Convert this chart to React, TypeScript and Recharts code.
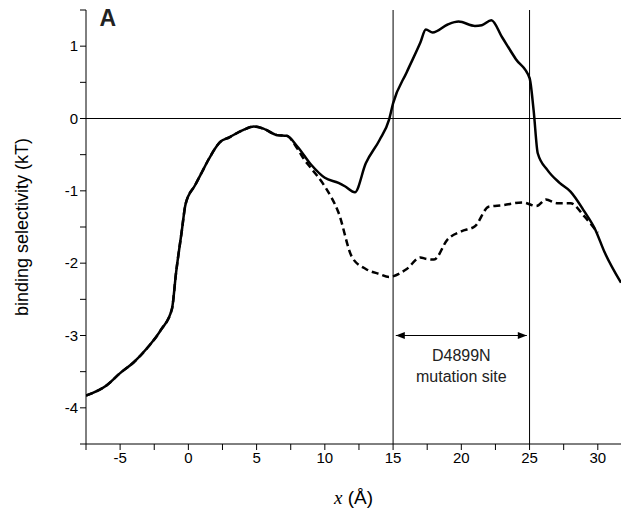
import {
  Line,
  LineChart,
  ReferenceDot,
  ReferenceLine,
  XAxis,
  YAxis,
} from 'recharts'

// solid curve (wild type)
const xSolid = [-7.5, -6, -5, -4, -3, -2, -1.2, -0.9, -0.5, -0.2, 0.5, 1, 1.5, 2.3, 3, 4, 4.8, 5.5, 6.5, 7.2, 8, 9, 10, 11, 11.5, 12.2, 13, 14, 14.7, 15, 16, 17, 17.4, 17.9, 19, 19.8, 21, 21.5, 22.2, 23, 24, 25, 25.3, 25.6, 26.3, 27.2, 28, 29, 29.8, 30.5, 31.7]
const ySolid = [-3.83, -3.69, -3.52, -3.37, -3.17, -2.92, -2.63, -2.13, -1.58, -1.18, -0.92, -0.74, -0.56, -0.33, -0.26, -0.16, -0.11, -0.14, -0.23, -0.24, -0.39, -0.64, -0.82, -0.89, -0.94, -1.02, -0.62, -0.3, -0.02, 0.21, 0.64, 1.05, 1.23, 1.19, 1.3, 1.34, 1.28, 1.29, 1.36, 1.12, 0.82, 0.56, 0.11, -0.48, -0.71, -0.89, -1.01, -1.28, -1.53, -1.85, -2.27]

// dashed curve (mutant), diverges after ~7.5
const xDash = [-7.5, -6, -5, -4, -3, -2, -1.2, -0.9, -0.5, -0.2, 0.5, 1, 1.5, 2.3, 3, 4, 4.8, 5.5, 6.5, 7.2, 8, 8.5, 9, 10, 11, 12, 13, 14, 14.7, 16, 17, 17.4, 18, 19, 20, 21, 22, 23, 24.5, 25.5, 26.2, 27, 28, 29, 30]
const yDash = [-3.83, -3.69, -3.52, -3.37, -3.17, -2.92, -2.63, -2.13, -1.58, -1.18, -0.92, -0.74, -0.56, -0.33, -0.26, -0.16, -0.11, -0.14, -0.23, -0.24, -0.42, -0.57, -0.69, -0.94, -1.3, -1.92, -2.08, -2.15, -2.19, -2.08, -1.92, -1.94, -1.95, -1.67, -1.56, -1.49, -1.22, -1.2, -1.16, -1.21, -1.12, -1.17, -1.17, -1.35, -1.58]

const xTicks = [-7.5, -5, -2.5, 0, 2.5, 5, 7.5, 10, 12.5, 15, 17.5, 20, 22.5, 25, 27.5, 30]
const yTicks = [-4.5, -4, -3.5, -3, -2.5, -2, -1.5, -1, -0.5, 0, 0.5, 1, 1.5]

const solidData = xSolid.map((x, i) => ({ x, y: ySolid[i] }))
const dashData = xDash.map((x, i) => ({ x, y: yDash[i] }))

const FONT = 'Liberation Sans, Arial, sans-serif'

const arrowHead = (dir: number) => (p: any) => (
  <path d={`M${p.cx},${p.cy} l${-dir * 9},-3.5 l0,7 z`} fill="#000" />
)

export default function App() {
  return (
    <div style={{ position: 'absolute', left: 0, top: 0 }}>
      <LineChart
        width={621}
        height={521}
        margin={{ top: 10, right: 0, bottom: 0, left: 26 }}
        style={{ fontFamily: FONT }}
      >
        <XAxis
          type="number"
          dataKey="x"
          domain={[-7.5, 31.7]}
          ticks={xTicks}
          allowDataOverflow
          height={77}
          stroke="#000"
          tickSize={6}
          tick={{ fill: '#000', fontSize: 15 }}
          tickFormatter={(v: number) => (v % 5 === 0 ? String(v) : '')}
          label={(p: any) => {
            const vb = p.viewBox
            const cx = vb.x + vb.width / 2
            return (
              <text x={cx} y={vb.y + 60} textAnchor="middle" fontSize={19} fill="#000">
                <tspan fontFamily="Liberation Serif, serif" fontStyle="italic">x</tspan>
                <tspan fontFamily={FONT}> (Å)</tspan>
              </text>
            )
          }}
        />
        <YAxis
          type="number"
          domain={[-4.5, 1.5]}
          ticks={yTicks}
          allowDataOverflow
          width={60}
          stroke="#000"
          tickSize={6}
          tick={{ fill: '#000', fontSize: 15 }}
          tickFormatter={(v: number) => (Number.isInteger(v) ? String(v) : '')}
          label={{
            value: 'binding selectivity (kT)',
            angle: -90,
            position: 'insideLeft',
            offset: -4,
            style: { textAnchor: 'middle', fontSize: 18, fill: '#000' },
          }}
        />
        <ReferenceLine y={0} stroke="#000" strokeWidth={1.2} />
        <ReferenceLine x={15} stroke="#000" strokeWidth={1} />
        <ReferenceLine x={25} stroke="#000" strokeWidth={1} />
        <ReferenceLine segment={[{ x: 15.2, y: -3 }, { x: 24.8, y: -3 }]} stroke="#000" strokeWidth={1} />
        <ReferenceDot x={15.2} y={-3} r={0} shape={arrowHead(-1)} />
        <ReferenceDot x={24.8} y={-3} r={0} shape={arrowHead(1)} />
        <ReferenceDot
          x={20}
          y={-3.35}
          r={0}
          shape={(p: any) => (
            <text x={p.cx} y={p.cy} textAnchor="middle" fontSize={16} fill="#222" fontFamily={FONT}>
              <tspan x={p.cx} dy={0}>D4899N</tspan>
              <tspan x={p.cx} dy={21}>mutation site</tspan>
            </text>
          )}
        />
        <ReferenceDot
          x={-5.9}
          y={1.28}
          r={0}
          shape={(p: any) => (
            <text x={p.cx} y={p.cy} textAnchor="middle" fontSize={23} fontWeight="bold" fill="#222" fontFamily={FONT}>
              A
            </text>
          )}
        />
        <Line
          data={dashData}
          dataKey="y"
          type="monotone"
          stroke="#000"
          strokeWidth={2.5}
          strokeDasharray="7 4"
          dot={false}
          isAnimationActive={false}
        />
        <Line
          data={solidData}
          dataKey="y"
          type="monotone"
          stroke="#000"
          strokeWidth={2.5}
          dot={false}
          isAnimationActive={false}
        />
      </LineChart>
    </div>
  )
}
